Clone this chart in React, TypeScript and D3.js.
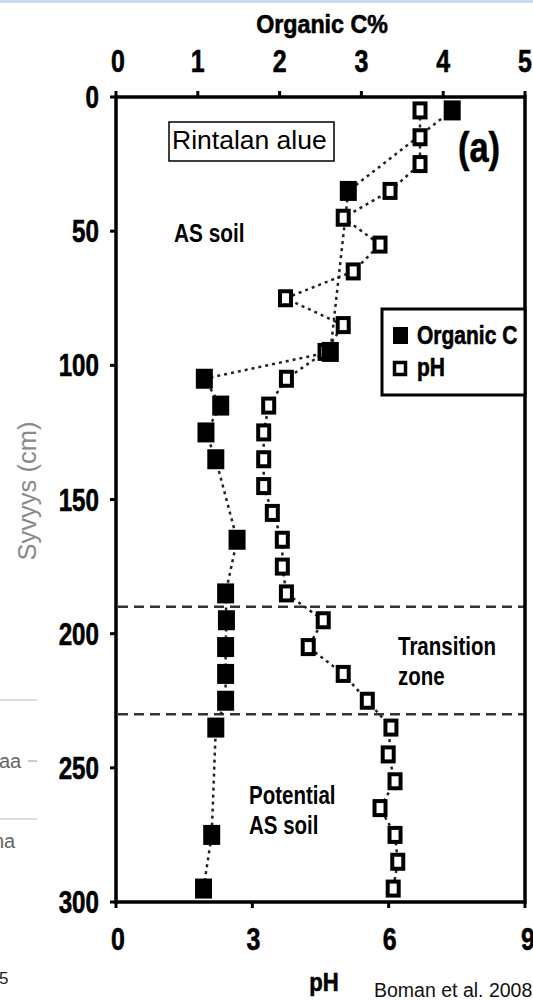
import React from "react";
import * as d3 from "d3";

// ---------- data ----------
const phDepth = [5, 15, 25, 35, 45, 55, 65, 75, 85, 95, 105, 115, 125, 135, 145, 155, 165, 175, 185, 195, 205, 215, 225, 235, 245, 255, 265, 275, 285, 295];
const phValue = [6.69, 6.69, 6.69, 6.03, 5.0, 5.81, 5.22, 3.73, 5.0, 4.6, 3.75, 3.36, 3.25, 3.25, 3.25, 3.44, 3.66, 3.66, 3.75, 4.56, 4.23, 5.0, 5.53, 6.05, 5.99, 6.14, 5.81, 6.14, 6.2, 6.1];
const cDepth = [5, 35, 95, 105, 115, 125, 135, 165, 185, 195, 205, 215, 225, 235, 275, 295];
const cValue = [4.11, 2.84, 2.62, 1.08, 1.28, 1.1, 1.22, 1.48, 1.34, 1.35, 1.34, 1.34, 1.34, 1.22, 1.17, 1.07];
const cTicks = [0, 1, 2, 3, 4, 5];
const phTicks = [0, 3, 6, 9];
const depthTicks = [0, 50, 100, 150, 200, 250, 300];
const zoneBounds = [190, 230];

const FONT = "Liberation Sans, Arial, Helvetica, sans-serif";

function T({ x, y, fs, sx = 1, anchor = "start", bold = false, fill = "#000", rotate = 0, heavy = false, children }: any) {
  return (
    <text
      transform={`translate(${x},${y}) rotate(${rotate}) scale(${sx},1)`}
      fontSize={fs}
      fontWeight={bold ? 700 : 400}
      textAnchor={anchor}
      fill={fill}
      stroke={heavy ? fill : "none"}
      strokeWidth={heavy ? 0.6 : 0}
      fontFamily={FONT}
    >
      {children}
    </text>
  );
}

export default function App() {
  const W = 533, H = 1002;
  const left = 116, right = 525, top = 97, bottom = 902;
  const xC = d3.scaleLinear().domain([0, 5]).range([left, right]);
  const xPh = d3.scaleLinear().domain([0, 9]).range([left, right]);
  const y = d3.scaleLinear().domain([0, 300]).range([top, bottom]);

  const phPts = phDepth.map((d, i) => [xPh(phValue[i]), y(d)] as [number, number]);
  const cPts = cDepth.map((d, i) => [xC(cValue[i]), y(d)] as [number, number]);
  const line = d3.line();

  return (
    <svg width={W} height={H} style={{ position: "absolute", left: 0, top: 0, background: "#fff" }}>
      {/* slide artifacts */}
      <rect x={0} y={0} width={W} height={3} fill="#c6d9f0" />
      <line x1={0} x2={37} y1={700} y2={700} stroke="#d0d0d0" strokeWidth={1.5} />
      <line x1={0} x2={37} y1={819} y2={819} stroke="#d0d0d0" strokeWidth={1.5} />
      <line x1={28} x2={37} y1={761} y2={761} stroke="#bbb" strokeWidth={1.5} />
      <T x={-1} y={768} fs={20} fill="#666">aa</T>
      <T x={-7} y={848} fs={20} fill="#666">na</T>
      <T x={-1} y={984} fs={17} fill="#222">5</T>
      <T x={36} y={491} fs={25} sx={1.02} anchor="middle" rotate={-90} fill="#8a8a8a">Syvyys (cm)</T>

      {/* zone boundaries */}
      {zoneBounds.map((d) => (
        <line key={d} x1={left + 2} x2={right - 1} y1={y(d)} y2={y(d)} stroke="#333" strokeWidth={2.5} strokeDasharray="10 6" />
      ))}

      {/* frame */}
      <rect x={left} y={top} width={right - left} height={bottom - top} fill="none" stroke="#000" strokeWidth={3.5} />

      {/* top axis: Organic C */}
      {cTicks.map((t) => (
        <g key={"c" + t}>
          <line x1={xC(t)} x2={xC(t)} y1={top} y2={top - 6} stroke="#000" strokeWidth={3} />
          <T x={xC(t) + (t === 0 ? 2 : 0)} y={72} fs={32} sx={0.78} bold heavy anchor="middle">{t}</T>
        </g>
      ))}
      <T x={322} y={33} fs={25} sx={0.93} bold heavy anchor="middle">Organic C%</T>

      {/* left axis: depth */}
      {depthTicks.map((t) => (
        <g key={"d" + t}>
          <line x1={left} x2={left - 6} y1={y(t)} y2={y(t)} stroke="#000" strokeWidth={3} />
          <T x={99} y={y(t) + 11} fs={31} sx={0.78} bold heavy anchor="end">{t}</T>
        </g>
      ))}

      {/* bottom axis: pH */}
      {phTicks.map((t) => (
        <g key={"p" + t}>
          <line x1={xPh(t)} x2={xPh(t)} y1={bottom} y2={bottom + 6} stroke="#000" strokeWidth={3} />
          <T x={xPh(t) + (t === 0 ? 2 : t === 9 ? 3 : 1)} y={950} fs={32} sx={0.78} bold heavy anchor="middle">{t}</T>
        </g>
      ))}
      <T x={324} y={991} fs={26} sx={0.85} bold heavy anchor="middle">pH</T>
      <T x={374} y={997} fs={19.5} fill="#111">Boman et al. 2008</T>

      {/* dotted connectors */}
      <path d={line(phPts) || ""} fill="none" stroke="#222" strokeWidth={2.5} strokeDasharray="3 4" />
      <path d={line(cPts) || ""} fill="none" stroke="#222" strokeWidth={2.5} strokeDasharray="3 4" />

      {/* pH markers (open) */}
      {phPts.map(([px, py], i) => (
        <rect key={"ph" + i} x={px - 5.5} y={py - 7} width={11} height={14} fill="#fff" stroke="#000" strokeWidth={4} />
      ))}
      {/* Organic C markers (filled) */}
      {cPts.map(([px, py], i) => (
        <rect key={"oc" + i} x={px - 8.5} y={py - 10} width={17} height={20} fill="#000" />
      ))}

      {/* annotations */}
      <rect x={169} y={122} width={165} height={39} fill="#fff" stroke="#000" strokeWidth={1.5} />
      <T x={172} y={149} fs={26} sx={1.02}>Rintalan alue</T>
      <T x={479} y={162} fs={42} sx={0.82} bold heavy anchor="middle">(a)</T>
      <T x={174} y={242} fs={26} sx={0.8} bold>AS soil</T>
      <T x={398} y={655} fs={25} sx={0.82} bold>Transition</T>
      <T x={398} y={685} fs={25} sx={0.82} bold>zone</T>
      <T x={249} y={804} fs={25} sx={0.82} bold>Potential</T>
      <T x={249} y={834} fs={25} sx={0.82} bold>AS soil</T>

      {/* legend */}
      <rect x={382} y={309} width={right - 382} height={86} fill="#fff" stroke="#000" strokeWidth={3} />
      <rect x={393} y={327} width={15} height={17} fill="#000" />
      <T x={417} y={344} fs={25} sx={0.84} bold heavy>Organic C</T>
      <rect x={394.5} y={362.5} width={11} height={12} fill="#fff" stroke="#000" strokeWidth={3.5} />
      <T x={417} y={376} fs={25} sx={0.84} bold heavy>pH</T>
    </svg>
  );
}
